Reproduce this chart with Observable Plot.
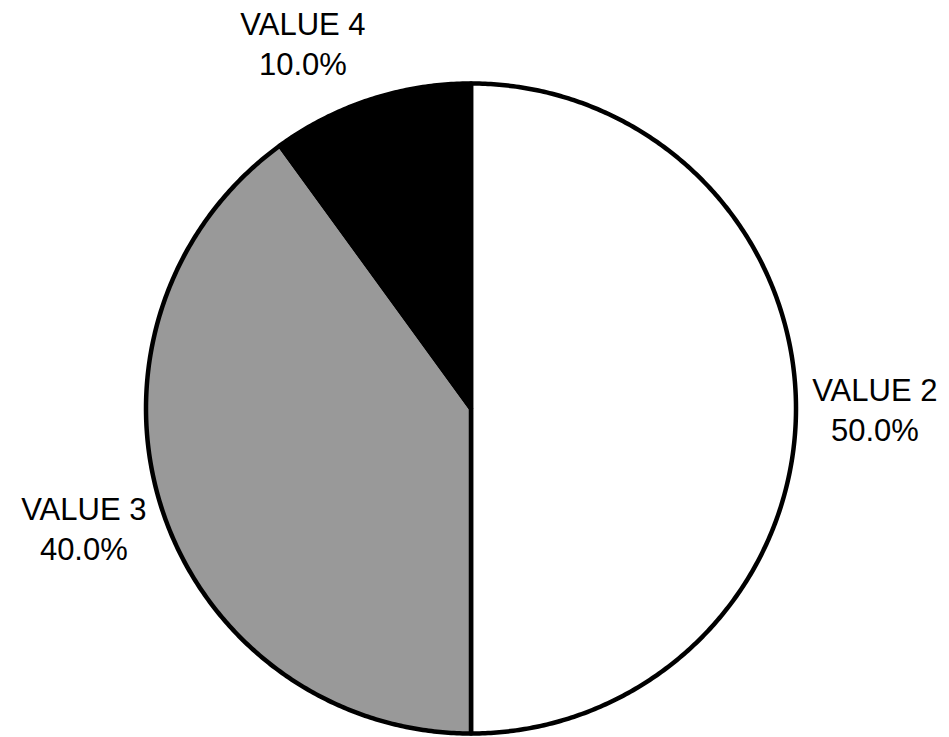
<!DOCTYPE html>
<html>
<head>
<meta charset="utf-8">
<script src="https://cdn.jsdelivr.net/npm/d3@7"></script>
<script src="https://cdn.jsdelivr.net/npm/@observablehq/plot@0.6"></script>
<style>
  html, body { margin: 0; padding: 0; background: #fff; }
  #chart svg { display: block; }
</style>
</head>
<body>
<div id="chart"></div>
<script>
// Pie categories, in clockwise order from twelve o'clock
const categories = ["VALUE 2", "VALUE 3", "VALUE 4"];
const values = [50, 40, 10];
const sliceColors = ["#ffffff", "#999999", "#000000"];

const W = 949, H = 737;
const margin = {left: 145.5, right: 153.5, top: 83, bottom: 4};
const radiusPx = (W - margin.left - margin.right) / 2;
const fontSize = 31;
const fontFamily = "'Liberation Sans', Arial, Helvetica, sans-serif";

const total = d3.sum(values);
const arcs = d3.pie().sort(null).value(d => d)(values);

// Outline polygon of each slice: centre, then points along the arc
const slicePoints = arcs.flatMap((a, i) => {
  const n = Math.max(8, Math.ceil((a.endAngle - a.startAngle) / (2 * Math.PI) * 720));
  const pts = [{key: categories[i], x: 0, y: 0}];
  for (let k = 0; k <= n; ++k) {
    const t = a.startAngle + (a.endAngle - a.startAngle) * k / n;
    pts.push({key: categories[i], x: Math.sin(t), y: Math.cos(t)});
  }
  return pts;
});

// Label text widths, so multi-line labels can be centred beside the slice
const ctx = document.createElement("canvas").getContext("2d");
ctx.font = `${fontSize}px ${fontFamily}`;

const labels = arcs.map((a, i) => {
  const mid = (a.startAngle + a.endAngle) / 2;
  const sx = Math.sin(mid), cy = Math.cos(mid);
  const lines = [categories[i], `${(values[i] / total * 100).toFixed(1)}%`];
  const wPx = d3.max(lines, s => ctx.measureText(s).width);
  const side = Math.abs(sx) < 1e-6 ? 0 : Math.sign(sx);
  return {
    text: lines.join("\n"),
    x: 1.05 * sx + side * (wPx / 2) / radiusPx,
    y: 1.185 * cy
  };
});

const chart = Plot.plot({
  width: W,
  height: H,
  marginLeft: margin.left,
  marginRight: margin.right,
  marginTop: margin.top,
  marginBottom: margin.bottom,
  x: {domain: [-1, 1], axis: null},
  y: {domain: [-1, 1], axis: null},
  color: {domain: categories, range: sliceColors},
  style: {fontFamily, background: "#fff", overflow: "visible"},
  marks: [
    Plot.line(slicePoints, {
      x: "x", y: "y", z: "key", fill: "key",
      stroke: "#000", strokeWidth: 4.5, strokeLinejoin: "round",
      curve: "linear-closed"
    }),
    Plot.text(labels, {
      x: "x", y: "y", text: "text",
      fontSize, lineHeight: 40 / fontSize,
      textAnchor: "middle", lineAnchor: "middle",
      fill: "#000"
    })
  ]
});

document.getElementById("chart").append(chart);
</script>
</body>
</html>
